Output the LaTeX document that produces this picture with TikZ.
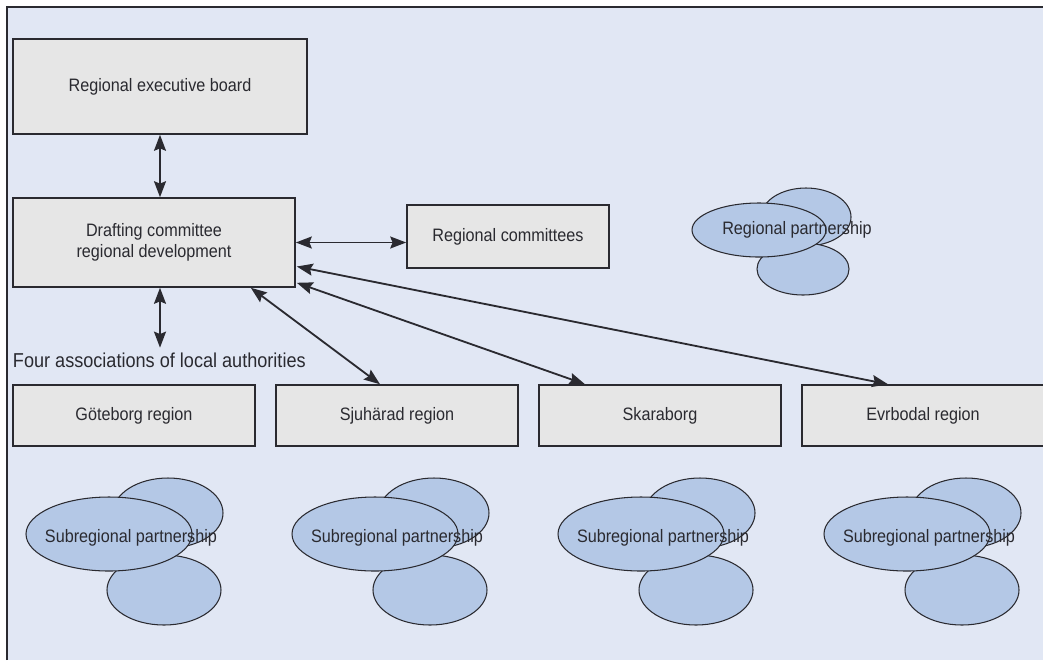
\documentclass[tikz,border=0pt]{standalone}
\usepackage{fontspec}
\setmainfont[FakeStretch=0.9]{Liberation Sans}
\usepackage{tikz}
\usetikzlibrary{arrows.meta,positioning,calc}
\definecolor{panel}{HTML}{E1E7F4}
\definecolor{boxgray}{HTML}{E6E6E6}
\definecolor{bubble}{HTML}{B4C8E6}
\definecolor{ink}{HTML}{2A2A30}
\tikzset{
  >={Stealth[length=4mm,width=3mm,inset=0.6mm]},
  txt/.style={text=ink,align=center,font=\fontsize{12.8}{15}\selectfont},
  unit/.style={txt,draw=ink,line width=1.1pt,fill=boxgray},
  region/.style={unit,minimum width=6.05cm,minimum height=1.525cm},
  partner/.style={draw=ink,line width=0.75pt,fill=bubble},
  link/.style={<->,line width=1.3pt,draw=ink}
}
\begin{document}
\begin{tikzpicture}[x=0.025cm,y=-0.025cm]
  \useasboundingbox (0,0) rectangle (1043,660);
  \fill[panel] (7,7) rectangle (1043,660);
  \draw[ink,line width=1.5pt] (7,660) -- (7,7) -- (1043,7);

  % top of the structure
  \node[unit,minimum width=7.35cm,minimum height=2.375cm] (exec) at (160,86.5) {Regional executive board};
  \node[unit,minimum width=7.05cm,minimum height=2.225cm] (draft) at (154,242.5) {Drafting committee\\regional development};
  \node[unit,minimum width=5.05cm,minimum height=1.575cm] (rc) at (508,236.5) {Regional committees};
  \node[txt,anchor=west,font=\fontsize{14.3}{16}\selectfont] (assoc) at (8,360) {Four associations of local authorities};

  % regional partnership
  \filldraw[partner] (806,217) ellipse [x radius=45,y radius=29];
  \filldraw[partner] (803,269) ellipse [x radius=46,y radius=26];
  \filldraw[partner] (759,230) ellipse [x radius=67,y radius=27];
  \node[txt] (regpart) at (797,230) {Regional partnership};

  % the four associations
  \foreach \x/\name/\title in {134/gbg/{Göteborg region},397/sju/{Sjuhärad region},
                               660/ska/{Skaraborg},923/evr/{Evrbodal region}}
    \node[region] (\name) at (\x,415.5) {\title};

  \foreach \cx in {109,375,641,907}{
    \filldraw[partner] (\cx+59,513) ellipse [x radius=55,y radius=35];
    \filldraw[partner] (\cx+55,590) ellipse [x radius=57,y radius=35];
    \filldraw[partner] (\cx,534) ellipse [x radius=83,y radius=37];
    \node[txt] (sub-\cx) at (\cx+22,538) {Subregional partnership};
  }

  \draw[link] (exec.south) -- (exec.south |- draft.north);
  \draw[link] (exec.south |- draft.south) -- (exec.south |- assoc.north);
  \draw[link] (draft.east) -- (draft.east -| rc.west);
  \draw[link] ($(draft.south east)+(-45,0)$) -- ($(sju.north)+(-17,0)$);
  \draw[link] ($(draft.south east)+(1,-5)$) -- ($(ska.north)+(-75,0)$);
  \draw[link] ($(draft.east)+(1,24)$) -- ($(evr.north)+(-35,0)$);
\end{tikzpicture}
\end{document}
